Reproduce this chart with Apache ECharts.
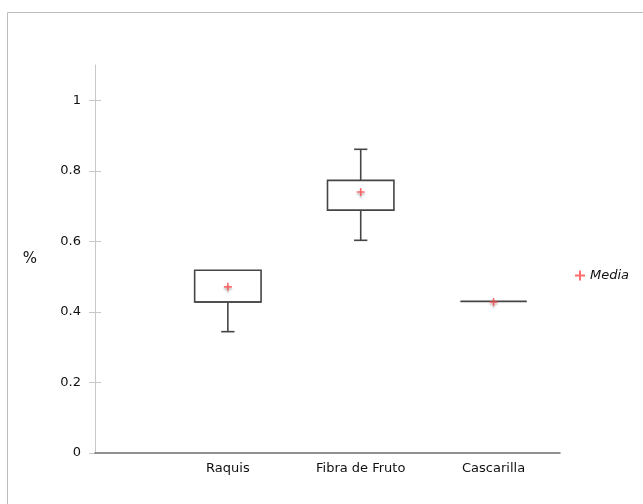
<!DOCTYPE html>
<html>
<head>
<meta charset="utf-8">
<script src="https://cdn.jsdelivr.net/npm/echarts@6/dist/echarts.min.js"></script>
<style>
  html, body { margin: 0; padding: 0; background: #fff; }
  #chart { width: 643px; height: 504px; }
</style>
</head>
<body>
<div id="chart"></div>
<script>
// Categories and their positions on the horizontal axis
const categories = ['Raquis', 'Fibra de Fruto', 'Cascarilla'];
const positions = [1, 2, 3];

// Box statistics per category: minimum, first quartile, median, third quartile, maximum
const minimums = [0.344, 0.603, 0.430];
const q1Values = [0.428, 0.688, 0.430];
const medians  = [0.428, 0.688, 0.430];
const q3Values = [0.518, 0.773, 0.430];
const maximums = [0.518, 0.861, 0.430];

// Means shown as "+" markers
const means = [0.471, 0.740, 0.428];

// Y axis ticks
const yTicks = [0, 0.2, 0.4, 0.6, 0.8, 1];

const boxData = positions.map((p, i) => [p, minimums[i], q1Values[i], medians[i], q3Values[i], maximums[i]]);
const meanData = positions.map((p, i) => [p, means[i]]);

const BOX_HALF = 0.25;   // half box width, in axis units
const CAP_HALF = 0.05;   // half whisker cap width, in axis units
const strokeCol = '#454545';
const fontFam = '"DejaVu Sans", "Noto Sans", sans-serif';

function renderBox(params, api) {
  const x = api.value(0);
  const vMin = api.value(1), vQ1 = api.value(2), vMed = api.value(3), vQ3 = api.value(4), vMax = api.value(5);
  const pt = (xv, yv) => api.coord([xv, yv]);
  const style = { stroke: strokeCol, lineWidth: 1.6, fill: null };
  const line = (a, b) => ({ type: 'line', shape: { x1: a[0], y1: a[1], x2: b[0], y2: b[1] }, style });
  const children = [];
  if (vMax > vQ3) {
    children.push(line(pt(x, vQ3), pt(x, vMax)));
    children.push(line(pt(x - CAP_HALF, vMax), pt(x + CAP_HALF, vMax)));
  }
  if (vMin < vQ1) {
    children.push(line(pt(x, vQ1), pt(x, vMin)));
    children.push(line(pt(x - CAP_HALF, vMin), pt(x + CAP_HALF, vMin)));
  }
  const tl = pt(x - BOX_HALF, vQ3);
  const br = pt(x + BOX_HALF, vQ1);
  if (br[1] - tl[1] > 0.5) {
    children.push({ type: 'rect', shape: { x: tl[0], y: tl[1], width: br[0] - tl[0], height: br[1] - tl[1] }, style });
  }
  children.push(line(pt(x - BOX_HALF, vMed), pt(x + BOX_HALF, vMed)));
  return { type: 'group', children };
}

const chart = echarts.init(document.getElementById('chart'), null, { renderer: 'canvas' });

const yAxisBase = {
  type: 'value',
  min: 0,
  max: 1.1,
  interval: 0.2,
  z: 0,
  splitLine: { show: false },
  axisLine: { show: true, lineStyle: { color: '#c8c8c8', width: 1 } },
};

chart.setOption({
  animation: false,
  backgroundColor: '#fff',
  textStyle: { fontFamily: fontFam },
  graphic: [{
    type: 'rect',
    shape: { x: 7.5, y: 12.5, width: 800, height: 700 },
    style: { fill: null, stroke: '#bcbcbc', lineWidth: 1 },
    silent: true,
    z: -10
  }],
  grid: { left: 95, right: 83, top: 65, bottom: 51 },
  legend: {
    left: 570,
    top: 264,
    orient: 'vertical',
    itemWidth: 10,
    itemHeight: 10,
    itemGap: 6,
    data: ['Media'],
    textStyle: { fontFamily: fontFam, fontSize: 13, fontStyle: 'italic', color: '#111' }
  },
  xAxis: {
    type: 'value',
    min: 0,
    max: 3.5,
    interval: 1,
    z: 5,
    splitLine: { show: false },
    axisTick: { show: false },
    axisLine: { lineStyle: { color: '#6e6e6e', width: 1.5 } },
    axisLabel: {
      margin: 9,
      fontSize: 13,
      color: '#111',
      fontFamily: fontFam,
      showMaxLabel: false,
      formatter: v => {
        const i = positions.indexOf(v);
        return i >= 0 ? categories[i] : '';
      }
    }
  },
  yAxis: [
    Object.assign({}, yAxisBase, {
      name: '%',
      nameLocation: 'middle',
      nameGap: 58,
      nameRotate: 0,
      nameTextStyle: { fontSize: 15, color: '#111', fontFamily: fontFam },
      axisTick: { show: true, length: 6, lineStyle: { color: '#c8c8c8' }, customValues: yTicks },
      axisLabel: {
        margin: 14,
        fontSize: 13,
        color: '#111',
        fontFamily: fontFam,
        customValues: yTicks,
        formatter: v => String(+v.toFixed(1))
      }
    }),
    Object.assign({}, yAxisBase, {
      position: 'left',
      axisLine: { show: false },
      axisTick: { show: true, inside: true, length: 6, lineStyle: { color: '#c8c8c8' }, customValues: [0.2, 0.4, 0.6, 0.8, 1] },
      axisLabel: { show: false }
    })
  ],
  series: [
    {
      name: 'Cajas',
      type: 'custom',
      renderItem: renderBox,
      encode: { x: 0, y: [1, 2, 3, 4, 5] },
      data: boxData,
      z: 2
    },
    {
      name: 'Media',
      type: 'scatter',
      symbol: 'path://M4,0 L6,0 L6,4 L10,4 L10,6 L6,6 L6,10 L4,10 L4,6 L0,6 L0,4 L4,4 Z',
      symbolSize: 8,
      itemStyle: {
        color: '#ff4a4a',
        shadowColor: 'rgba(0,0,0,0.35)',
        shadowBlur: 2,
        shadowOffsetY: 2
      },
      data: meanData,
      z: 3
    }
  ]
});
</script>
</body>
</html>
